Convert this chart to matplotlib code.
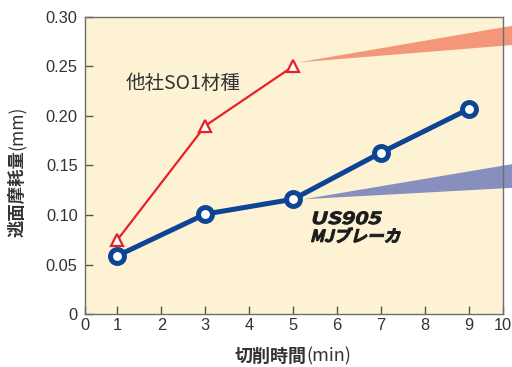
import matplotlib
matplotlib.use("Agg")
import matplotlib.pyplot as plt
import matplotlib.transforms as mtransforms
from matplotlib.textpath import TextPath
from matplotlib.patches import PathPatch, Polygon
from matplotlib.font_manager import FontProperties

plt.rcParams['font.family'] = ['Liberation Sans', 'Noto Sans CJK JP']

# data
time_other = [1, 3, 5]
wear_other = [0.075, 0.19, 0.25]
time_us = [1, 3, 5, 7, 9]
wear_us = [0.059, 0.101, 0.116, 0.163, 0.207]
y_ticks = [0, 0.05, 0.10, 0.15, 0.20, 0.25, 0.30]
y_labels = ['0', '0.05', '0.10', '0.15', '0.20', '0.25', '0.30']
x_labels = [str(i) for i in range(11)]

RED = '#e8202a'
BLUE = '#0d4494'
SALMON = '#f4967a'
LILAC = '#878fbf'
BG = '#fdf2d4'

fig = plt.figure(figsize=(5.12, 3.67), dpi=100)
ax = fig.add_axes([0.1667, 0.1436, 0.8151, 0.8109])
ax.set_facecolor(BG)

# odd axis: 0 and 10 are drawn at the frame edges
x_lo, x_hi = 0.272, 9.767
ax.set_xlim(x_lo, x_hi)
ax.set_ylim(0, 0.30)
ax.set_xticks([x_lo] + list(range(1, 10)) + [x_hi])
ax.set_xticklabels(x_labels)
ax.set_yticks(y_ticks)
ax.set_yticklabels(y_labels)
ax.tick_params(direction='in', length=5.5, width=1, color='#555555',
               labelsize=11.8, labelcolor='#333333')
ax.tick_params(axis='y', pad=5.5)
ax.tick_params(axis='x', pad=3)
for s in ax.spines.values():
    s.set_color('#6e6e6e')
    s.set_linewidth(1)

# callout wedges pointing from the last points out to the right
ax.add_patch(Polygon([(time_other[-1] + 0.13, wear_other[-1] + 0.004),
                      (10.0, 0.291), (10.0, 0.2715)],
                     closed=True, fc=SALMON, ec='none', zorder=1.5, clip_on=False))
ax.add_patch(Polygon([(time_us[2] + 0.24, wear_us[2]),
                      (10.0, 0.1515), (10.0, 0.1275)],
                     closed=True, fc=LILAC, ec='none', zorder=1.5, clip_on=False))

ax.plot(time_other, wear_other, color=RED, lw=1.6, marker='^', ms=8,
        mfc='white', mec=RED, mew=1.6, zorder=3)
ax.plot(time_us, wear_us, color=BLUE, lw=3.6, marker='o', ms=10,
        mfc='white', mec=BLUE, mew=3.6, zorder=4)

ax.text(2.49, 0.233, '他社SO1材種', fontsize=14, color='#333333',
        family=['Noto Sans CJK JP'], ha='center', va='center')


def slanted(x, y, s, size, xscale):
    tp = TextPath((0, 0), s, size=size,
                  prop=FontProperties(family='Noto Sans CJK JP', weight='bold'))
    tr = (mtransforms.Affine2D().scale(xscale, 1).skew_deg(14, 0)
          .scale(fig.dpi / 72)
          + mtransforms.ScaledTranslation(x, y, ax.transData))
    ax.add_patch(PathPatch(tp, transform=tr, fc='#1c1c1c', ec='#1c1c1c',
                           lw=0.7, zorder=5, clip_on=False))


slanted(5.38, 0.091, 'US905', 12, 1.35)
slanted(5.38, 0.073, 'MJブレーカ', 12, 1.0)

# axis titles: bold kanji, regular units
fig.text(0.598, 0.030, '切削時間', fontsize=13, weight='bold', color='#333333',
         family=['Noto Sans CJK JP'], ha='right', va='center')
fig.text(0.598, 0.030, '(min)', fontsize=13, color='#333333',
         family=['Noto Sans CJK JP'], ha='left', va='center')
fig.text(0.034, 0.591, '逃面摩耗量', fontsize=12.5, weight='bold', color='#333333',
         family=['Noto Sans CJK JP'], rotation=90, ha='center', va='top')
fig.text(0.034, 0.591, '(mm)', fontsize=12.5, color='#333333',
         family=['Noto Sans CJK JP'], rotation=90, ha='center', va='bottom')

fig.savefig('out.png', dpi=100)
